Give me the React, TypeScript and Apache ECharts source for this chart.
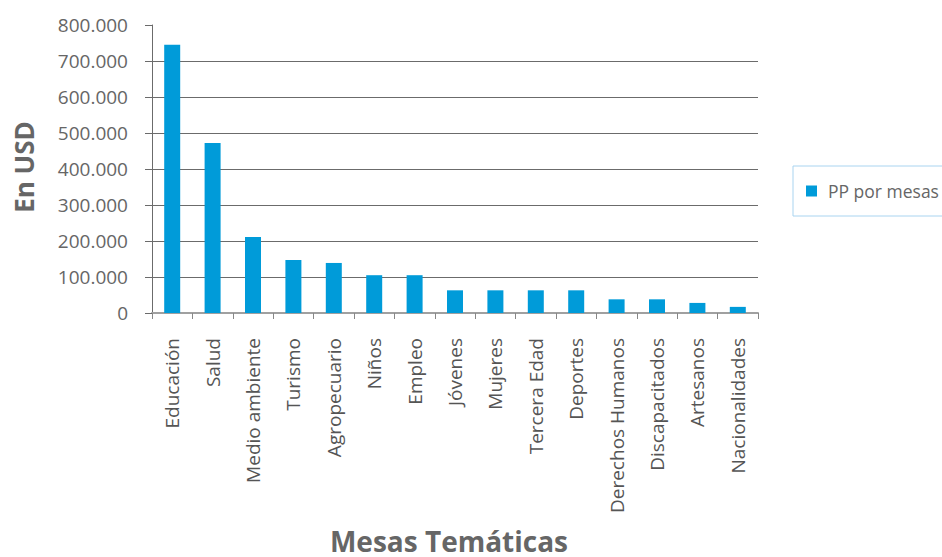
import React, { useEffect, useRef } from "react";
import * as echarts from "echarts";

const categories = [
  "Educación",
  "Salud",
  "Medio ambiente",
  "Turismo",
  "Agropecuario",
  "Niños",
  "Empleo",
  "Jóvenes",
  "Mujeres",
  "Tercera Edad",
  "Deportes",
  "Derechos Humanos",
  "Discapacitados",
  "Artesanos",
  "Nacionalidades",
];

const values = [
  745000, 472000, 211000, 147000, 139000, 105000, 105000, 63000, 63000, 63000,
  63000, 38000, 38000, 28000, 17000,
];

const seriesName = "PP por mesas";
const yTitle = "En USD";
const xTitle = "Mesas Temáticas";

const FONT = "'Open Sans', 'Noto Sans', sans-serif";

function fmt(v: number): string {
  return String(Math.round(v)).replace(/\B(?=(\d{3})+(?!\d))/g, ".");
}

export default function App() {
  const ref = useRef<HTMLDivElement>(null);
  useEffect(() => {
    document.body.style.margin = "0";
    if (!ref.current) return;
    const chart = echarts.init(ref.current, null, { renderer: "svg" });
    const gridColors = ["#6b6b6b", "#6b6b6b", "#6b6b6b", "#6b6b6b", "#6b6b6b", "#6b6b6b", "#6b6b6b", "#6b6b6b", "rgba(0,0,0,0)"];
    chart.setOption({
      animation: false,
      textStyle: { fontFamily: FONT },
      grid: { left: 152, right: 184, top: 25, bottom: 244, containLabel: false },
      legend: {
        left: 793,
        top: 166,
        orient: "vertical",
        padding: [16, 40, 16, 13],
        borderColor: "#a9d4f0",
        borderWidth: 1,
        borderRadius: 0,
        icon: "rect",
        itemWidth: 11,
        itemHeight: 11,
        itemGap: 10,
        textStyle: { fontFamily: FONT, fontSize: 17.5, color: "#666", padding: [0, 0, 0, 6] },
        data: [seriesName],
      },
      xAxis: {
        type: "category",
        data: categories,
        boundaryGap: true,
        axisLine: { show: true, lineStyle: { color: "#a0a0a0", width: 2 } },
        axisTick: { show: true, length: 6, alignWithLabel: false, lineStyle: { color: "#888" } },
        axisLabel: {
          rotate: 90,
          interval: 0,
          margin: 25,
          fontFamily: FONT,
          fontSize: 19,
          color: "#555",
        },
      },
      yAxis: {
        type: "value",
        min: 0,
        max: 800000,
        interval: 100000,
        axisLine: { show: true, lineStyle: { color: "#6b6b6b", width: 1 } },
        axisTick: { show: true, length: 7, lineStyle: { color: "#6b6b6b" } },
        axisLabel: {
          formatter: (v: number) => fmt(v),
          fontFamily: FONT,
          fontSize: 19,
          color: "#666",
          margin: 24,
        },
        splitLine: { show: true, lineStyle: { color: gridColors, width: 1 } },
      },
      series: [
        {
          name: seriesName,
          type: "bar",
          data: values,
          barWidth: 16,
          itemStyle: { color: "#009BD9" },
        },
      ],
      graphic: [
        {
          type: "text",
          x: 24,
          y: 167,
          rotation: Math.PI / 2,
          style: {
            text: yTitle,
            fontFamily: FONT,
            fontSize: 26,
            fontWeight: "bold",
            fill: "#666",
            textAlign: "center",
            textVerticalAlign: "middle",
          },
        },
        {
          type: "text",
          x: 449,
          y: 541,
          style: {
            text: xTitle,
            fontFamily: FONT,
            fontSize: 28,
            fontWeight: "bold",
            fill: "#666",
            textAlign: "center",
            textVerticalAlign: "middle",
          },
        },
      ],
    });
    return () => chart.dispose();
  }, []);
  return <div ref={ref} style={{ width: 942, height: 557 }} />;
}
